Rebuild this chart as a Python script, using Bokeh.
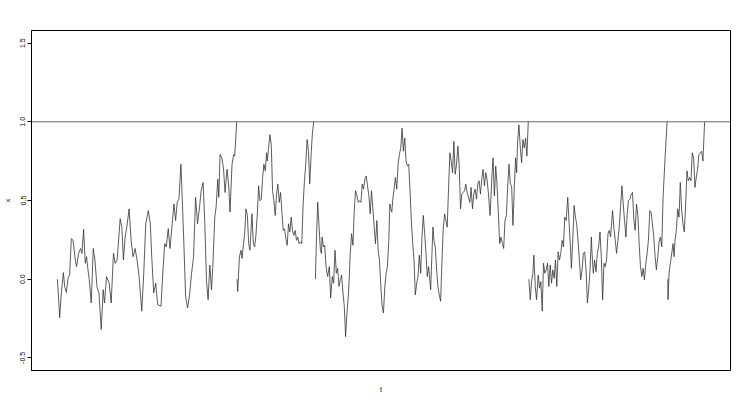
from bokeh.plotting import figure
from bokeh.models import Range1d, FixedTicker, Span
from bokeh.embed import file_html
from bokeh.resources import INLINE

# Segment 1
t1 = [0.000,0.013,0.023,0.040,0.060,0.073,0.090,0.107,0.123,0.140,
      0.157,0.180,0.193,0.213,0.233,0.247,0.263,0.280,0.293,0.307,
      0.320,0.340,0.360,0.377,0.397,0.417,0.440,0.460,0.473,0.493,
      0.520,0.540,0.563,0.580,0.600,0.630,0.647,0.663,0.680,0.697,
      0.720,0.740,0.760,0.780,0.800,0.820,0.847,0.867,0.887,0.913,
      0.933,0.947,0.967,0.987,1.007,1.040,1.060,1.077,1.093,1.113,
      1.130,1.153,1.170,1.187,1.203,1.220,1.240,1.253,1.273,1.287,
      1.307,1.327,1.347,1.367,1.387,1.407,1.427,1.443,1.463,1.480,
      1.497,1.513,1.530,1.547,1.560,1.580,1.593,1.610,1.620,1.633,
      1.650,1.667,1.683,1.703,1.720,1.733,1.753,1.770,1.780,1.800]
x1 = [0.000,-0.130,-0.245,-0.088,0.042,-0.046,-0.084,0.006,0.027,0.258,
      0.247,0.122,0.080,0.164,0.195,0.164,0.317,0.101,0.143,0.059,
      -0.004,-0.151,0.195,0.122,-0.046,-0.088,-0.319,-0.067,-0.151,0.017,
      -0.025,-0.151,0.164,0.101,0.122,0.384,0.331,0.122,0.268,0.331,
      0.447,0.247,0.143,0.195,0.122,0.017,-0.203,0.038,0.352,0.436,
      0.352,0.143,-0.088,-0.025,-0.161,-0.172,0.059,0.226,0.205,0.321,
      0.195,0.352,0.478,0.373,0.488,0.509,0.730,0.520,0.164,-0.109,
      -0.182,-0.099,0.038,0.143,0.520,0.352,0.457,0.562,0.614,0.352,
      -0.015,-0.130,0.090,-0.067,0.080,0.394,0.457,0.635,0.520,0.792,
      0.771,0.709,0.551,0.698,0.593,0.426,0.730,0.792,0.782,1.000]

# Segment 2
t2 = [1.803,1.810,1.827,1.843,1.853,1.867,1.880,1.893,1.907,1.920,
      1.933,1.953,1.967,1.980,1.993,2.007,2.020,2.033,2.047,2.060,
      2.073,2.087,2.100,2.107,2.117,2.133,2.147,2.160,2.173,2.187,
      2.200,2.213,2.227,2.240,2.253,2.267,2.280,2.293,2.307,2.320,
      2.333,2.347,2.360,2.373,2.387,2.400,2.413,2.427,2.440,2.453,
      2.467,2.480,2.493,2.507,2.520,2.533,2.547,2.560,2.573]
x2 = [0.000,-0.078,0.143,0.184,0.132,0.216,0.289,0.447,0.405,0.226,
      0.184,0.415,0.226,0.205,0.279,0.415,0.593,0.499,0.509,0.646,
      0.730,0.688,0.803,0.751,0.813,0.918,0.855,0.562,0.499,0.405,
      0.541,0.604,0.488,0.551,0.436,0.310,0.321,0.258,0.216,0.352,
      0.300,0.394,0.310,0.279,0.310,0.247,0.268,0.226,0.237,0.226,
      0.478,0.625,0.730,0.887,0.813,0.604,0.792,0.929,1.000]

# Segment 3
t3 = [2.590,2.600,2.613,2.627,2.640,2.650,2.657,2.670,2.683,2.697,
      2.713,2.730,2.743,2.760,2.773,2.787,2.800,2.813,2.827,2.840,
      2.853,2.867,2.880,2.893,2.907,2.923,2.940,2.953,2.967,2.980,
      2.993,3.007,3.020,3.033,3.047,3.060,3.073,3.087,3.100,3.113,
      3.127,3.140,3.153,3.167,3.180,3.193,3.207,3.220,3.233,3.247,
      3.260,3.273,3.287,3.300,3.313,3.327,3.337,3.347,3.357,3.367,
      3.380,3.393,3.407,3.420,3.433,3.447,3.460,3.473,3.487,3.500,
      3.513,3.527,3.540,3.553,3.567,3.580,3.593,3.607,3.620,3.633,
      3.647,3.660,3.673,3.687,3.700,3.713,3.727,3.747,3.760,3.770,
      3.780,3.793,3.807,3.820,3.833,3.847,3.860,3.873,3.887,3.900,
      3.913,3.927,3.940,3.953,3.967,3.980,3.993,4.007,4.020,4.033,
      4.047,4.060,4.073,4.087,4.100,4.113,4.127,4.140,4.153,4.167,
      4.180,4.193,4.207,4.220,4.233,4.247,4.260,4.273,4.287,4.300,
      4.313,4.327,4.343,4.360,4.373,4.387,4.400,4.413,4.427,4.440,
      4.453,4.467,4.480,4.493,4.507,4.520,4.533,4.547,4.560,4.573,
      4.587,4.600,4.610,4.620,4.633,4.647,4.660,4.673,4.687,4.700,
      4.713,4.727]
x3 = [0.000,0.247,0.488,0.331,0.184,0.164,0.268,0.205,0.216,0.080,
      0.017,0.080,-0.119,0.017,-0.025,0.184,0.038,0.069,-0.046,-0.004,
      0.027,-0.088,-0.172,-0.365,-0.214,-0.088,0.164,0.289,0.216,0.436,
      0.562,0.530,0.488,0.499,0.488,0.604,0.572,0.635,0.656,0.593,
      0.530,0.415,0.562,0.447,0.331,0.226,0.373,0.184,0.122,-0.046,
      -0.172,-0.214,-0.046,0.038,0.080,0.247,0.478,0.447,0.426,0.509,
      0.572,0.646,0.572,0.730,0.792,0.834,0.960,0.813,0.897,0.751,
      0.719,0.730,0.562,0.373,0.226,0.122,-0.099,-0.025,0.017,0.153,
      0.038,0.268,0.405,0.289,0.164,0.017,0.080,-0.067,0.164,0.331,
      0.247,0.205,0.059,-0.046,-0.099,-0.140,0.101,0.321,0.415,0.373,
      0.331,0.583,0.803,0.751,0.677,0.876,0.667,0.730,0.845,0.730,
      0.447,0.541,0.551,0.562,0.604,0.551,0.520,0.488,0.583,0.447,
      0.541,0.572,0.509,0.604,0.625,0.541,0.635,0.698,0.593,0.677,
      0.635,0.541,0.405,0.625,0.771,0.530,0.719,0.604,0.415,0.226,
      0.268,0.226,0.195,0.373,0.405,0.583,0.730,0.604,0.593,0.342,
      0.583,0.771,0.677,0.876,0.981,0.834,0.740,0.887,0.834,0.897,
      0.782,1.000]

# Segment 4
t4 = [4.733,4.747,4.760,4.773,4.783,4.797,4.810,4.827,4.840,4.853,
      4.867,4.880,4.893,4.907,4.920,4.933,4.947,4.960,4.973,4.987,
      5.000,5.013,5.027,5.040,5.053,5.067,5.080,5.093,5.107,5.123,
      5.137,5.150,5.160,5.173,5.187,5.200,5.213,5.227,5.240,5.253,
      5.267,5.280,5.293,5.307,5.320,5.333,5.347,5.360,5.367,5.380,
      5.393,5.407,5.420,5.433,5.447,5.460,5.473,5.487,5.500,5.513,
      5.527,5.540,5.553,5.573,5.587,5.600,5.613,5.627,5.640,5.653,
      5.667,5.680,5.693,5.707,5.720,5.733,5.747,5.760,5.773,5.787,
      5.800,5.813,5.827,5.840,5.853,5.867,5.880,5.893,5.907,5.920,
      5.933,5.947,5.960,5.973,5.987,6.000,6.013,6.027,6.040,6.053,
      6.067,6.080,6.100,6.120]
x4 = [0.000,-0.130,-0.015,0.038,0.153,-0.046,-0.130,0.027,-0.057,-0.015,
      -0.203,0.101,0.038,0.059,0.101,-0.046,0.090,-0.025,0.059,0.006,
      0.122,-0.046,0.174,0.122,0.164,0.247,0.205,0.394,0.373,0.520,
      0.352,0.205,0.069,0.247,0.468,0.394,0.352,0.237,0.122,-0.004,
      0.059,0.164,0.174,0.059,-0.151,-0.067,0.059,0.268,0.164,0.038,
      0.122,0.048,0.164,0.205,0.300,0.143,-0.130,0.101,0.080,0.122,
      0.289,0.310,0.268,0.436,0.321,0.247,0.164,0.247,0.331,0.457,
      0.593,0.478,0.373,0.268,0.415,0.499,0.509,0.541,0.551,0.373,
      0.310,0.478,0.405,0.226,0.080,0.017,0.069,-0.004,0.101,0.164,
      0.247,0.436,0.426,0.352,0.268,0.143,0.059,0.143,0.237,0.268,
      0.205,0.520,0.771,1.000]

# Segment 5
t5 = [6.127,6.130,6.140,6.153,6.167,6.180,6.190,6.200,6.213,6.227,
      6.240,6.253,6.267,6.280,6.293,6.307,6.320,6.333,6.347,6.360,
      6.373,6.387,6.400,6.413,6.427,6.440,6.453,6.467,6.480,6.490,
      6.497]
x5 = [0.000,-0.130,0.038,0.101,0.164,0.226,0.143,0.247,0.310,0.447,
      0.394,0.614,0.436,0.352,0.300,0.478,0.688,0.625,0.646,0.625,
      0.803,0.771,0.583,0.646,0.698,0.792,0.803,0.813,0.751,0.897,
      1.000]

y_ticks = [-0.5, 0.0, 0.5, 1.0, 1.5]
y_tick_labels = {-0.5: "-0.5", 0.0: "0.0", 0.5: "0.5", 1.0: "1.0", 1.5: "1.5"}
barrier = 1.0

segments = [(t1, x1), (t2, x2), (t3, x3), (t4, x4), (t5, x5)]
t_all = [v for s in segments for v in s[0]]
t_pad = 0.04 * (max(t_all) - min(t_all))

p = figure(width=731, height=395, output_backend="svg", toolbar_location=None,
           x_range=Range1d(min(t_all) - t_pad, max(t_all) + t_pad),
           y_range=Range1d(-0.58, 1.58),
           min_border_left=31, min_border_right=1, min_border_top=30, min_border_bottom=23)

p.xgrid.visible = False
p.ygrid.visible = False
p.outline_line_color = "black"
p.outline_line_width = 1
p.background_fill_color = "white"
p.border_fill_color = "white"

for tt, xx in segments:
    p.line(tt, xx, line_color="#333333", line_width=0.8)

p.add_layout(Span(location=barrier, dimension="width", line_color="#666666", line_width=1))

font = "Liberation Sans"
ya = p.yaxis[0]
ya.ticker = FixedTicker(ticks=y_ticks)
ya.major_label_overrides = y_tick_labels
ya.major_label_orientation = "vertical"
ya.major_label_text_font = font
ya.major_label_text_font_size = "7px"
ya.major_label_text_color = "black"
ya.major_label_standoff = 2
ya.major_tick_out = 4
ya.major_tick_in = 0
ya.minor_tick_line_color = None
ya.axis_line_color = "black"
ya.axis_label = "x"
ya.axis_label_text_font = font
ya.axis_label_text_font_size = "7px"
ya.axis_label_text_font_style = "normal"
ya.axis_label_text_color = "black"
ya.axis_label_standoff = 7

xa = p.xaxis[0]
xa.ticker = FixedTicker(ticks=[])
xa.major_tick_line_color = None
xa.minor_tick_line_color = None
xa.axis_line_color = None
xa.major_label_text_font_size = "0px"
xa.axis_label = "t"
xa.axis_label_text_font = font
xa.axis_label_text_font_size = "7px"
xa.axis_label_text_font_style = "normal"
xa.axis_label_text_color = "black"
xa.axis_label_standoff = 15

open("out.html", "w").write(file_html(p, INLINE))
